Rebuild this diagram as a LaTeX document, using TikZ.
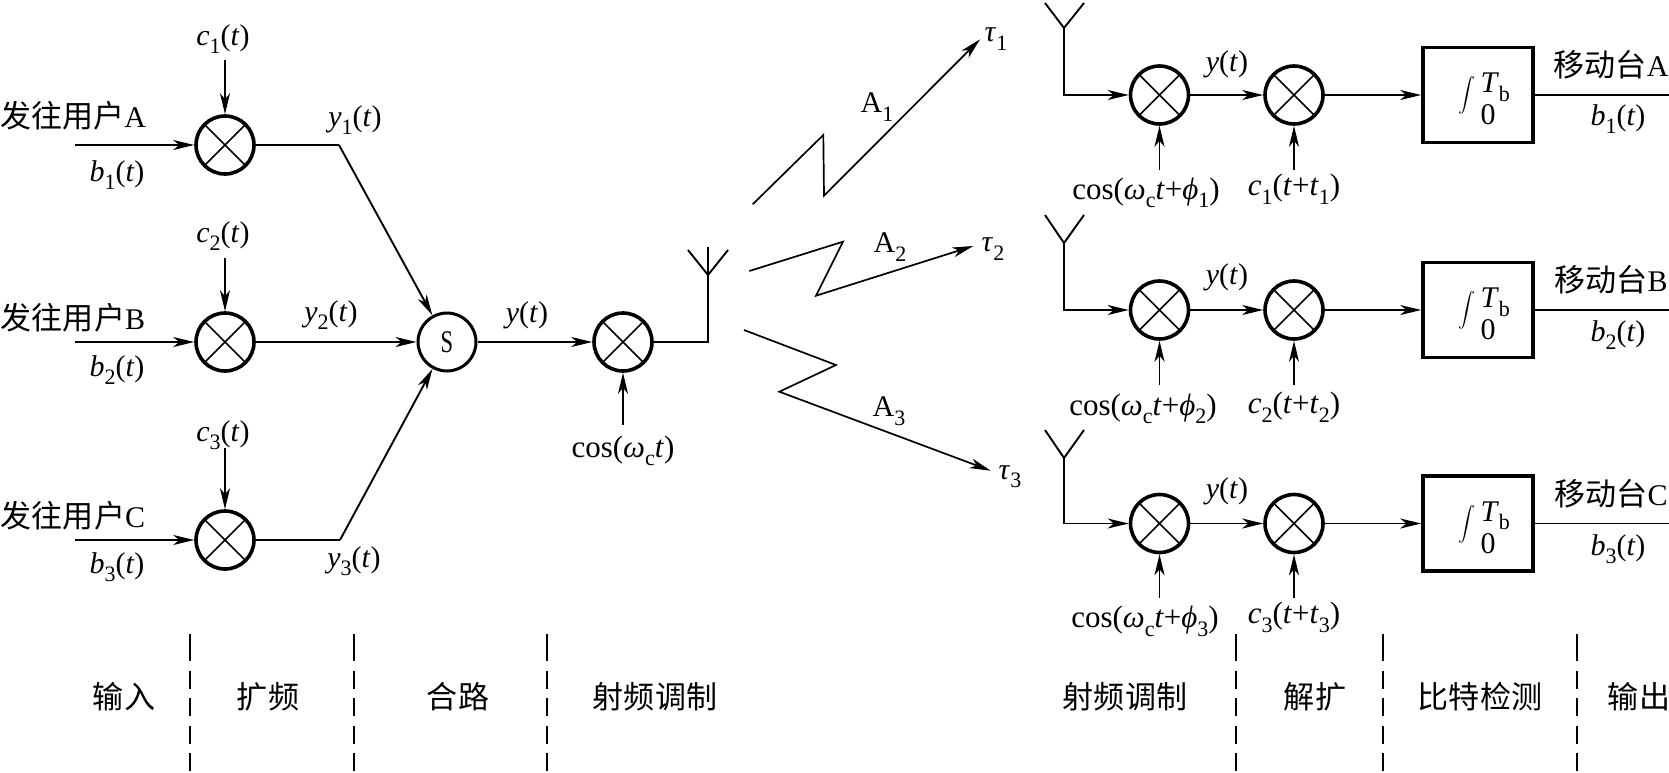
\documentclass[tikz,border=0pt]{standalone}
\usepackage{fontspec}
\setmainfont{Liberation Serif}
\newfontfamily\cjk[Scale=1.035]{Noto Sans CJK SC}
\usetikzlibrary{arrows.meta}
\newcommand{\sbx}[1]{\raisebox{-0.28em}{\fontsize{22}{22}\selectfont\upshape #1}}
\newcommand{\vi}[1]{\textit{#1}}
\newcommand{\ftt}{(\vi{t})}
\newcommand{\intT}{\mbox{\raisebox{5pt}{\scalebox{1.7}{\fontsize{10}{12}\selectfont$\displaystyle\int$}}\kern5pt\rlap{\raisebox{12pt}{\vi{T}\sbx{b}}}\raisebox{-20pt}{0}}}
\tikzset{
  every node/.style={inner sep=0pt,font=\fontsize{30}{36}\selectfont},
  wide/.style={font=\fontsize{31}{36}\selectfont},
  mixer/.style={circle,draw,line width=3.6pt,minimum size=58pt,
    path picture={\draw[line width=1.7pt] (path picture bounding box.north west)--(path picture bounding box.south east)
      (path picture bounding box.north east)--(path picture bounding box.south west);}},
  summer/.style={circle,draw,line width=3pt,minimum size=58pt},
  intbox/.style={draw,line width=3.6pt,minimum width=110pt,minimum height=95pt},
  wire/.style={line width=1.9pt},
  feed/.style={line width=1.9pt,-{Stealth[length=21pt,width=10pt,inset=6pt]}},
  radio/.style={line width=1.7pt,line join=miter},
  sep/.style={line width=1.9pt,dash pattern=on 27pt off 9.5pt on 18pt off 9.5pt on 18pt off 9.5pt on 18pt off 9.5pt on 18pt off 9.5pt on 18pt off 9.5pt},
  label/.style={anchor=center},
}
\begin{document}
\begin{tikzpicture}[x=1pt,y=-1pt]
\useasboundingbox (0,0) rectangle (1669,772);

% --- transmit side
\foreach \n/\y/\cy/\lby/\bby/\cly/\usr in {1/145/60/116/175/39/A,2/342/258/318/370/236/B,3/540/448/516/567/435/C}{
  \node[mixer] (m\n) at (225,\y) {};
  \coordinate (in\n) at (75,\y);
  \coordinate (ct\n) at (225,\cy);
  \draw[feed] (in\n) -- (m\n);
  \draw[feed] (ct\n) -- (m\n);
  \node[label] (user\n) at (73,\lby) {{\cjk 发往用户}\usr};
  \node[label] (b\n) at (117,\bby) {\vi{b}\sbx{\n}\ftt};
  \node[label] (c\n) at (223,\cly) {\vi{c}\sbx{\n}\ftt};
}
\node[summer] (sum) at (447,342) {\scalebox{.75}[1.05]{S}};
\coordinate (j1) at (339,145);
\coordinate (j3) at (340,540);
\draw[wire] (m1) -- (j1);
\draw[feed] (j1) -- (sum);
\draw[feed] (m2) -- (sum);
\draw[wire] (m3) -- (j3);
\draw[feed] (j3) -- (sum);
\node[label] (y1) at (355,120) {\vi{y}\sbx{1}\ftt};
\node[label] (y2) at (331,315) {\vi{y}\sbx{2}\ftt};
\node[label] (y3) at (354,561) {\vi{y}\sbx{3}\ftt};

\node[mixer] (mrf) at (623,342) {};
\draw[feed] (sum) -- (mrf);
\node[label] (yt) at (527,315) {\vi{y}\ftt};
\node[label,wide] (cosc) at (623,451) {cos(\vi{ω}\sbx{c}\vi{t})};
\coordinate (cosa) at (623,425);
\draw[feed] (cosa) -- (mrf);

% transmit antenna
\coordinate (txb) at (708,342);
\coordinate (txa) at (708,275);
\coordinate (txt) at (708,247);
\coordinate (txl) at (688,250);
\coordinate (txr) at (728,250);
\draw[wire] (mrf) -- (txb) -- (txt);
\draw[wire] (txl) -- (txa) -- (txr);

% --- radio paths
\coordinate (r1a) at (752.7,204.3);
\coordinate (r1b) at (823.3,135);
\coordinate (r1c) at (824,195.7);
\coordinate (r1d) at (980,39.3);
\coordinate (r2a) at (749.3,271);
\coordinate (r2b) at (843,241.7);
\coordinate (r2c) at (816,295.7);
\coordinate (r2d) at (973.3,246);
\coordinate (r3a) at (744,330);
\coordinate (r3b) at (836,365);
\coordinate (r3c) at (779.3,391.7);
\coordinate (r3d) at (990.7,470.7);
\draw[radio,-{Stealth[length=21pt,width=10pt,inset=6pt]}] (r1a) -- (r1b) -- (r1c) -- (r1d);
\draw[radio,-{Stealth[length=21pt,width=10pt,inset=6pt]}] (r2a) -- (r2b) -- (r2c) -- (r2d);
\draw[radio,-{Stealth[length=21pt,width=10pt,inset=6pt]}] (r3a) -- (r3b) -- (r3c) -- (r3d);
\node[label] (A1) at (877,107) {A\sbx{1}};
\node[label] (A2) at (890,247) {A\sbx{2}};
\node[label] (A3) at (889,411) {A\sbx{3}};
\node[label] (t1) at (996,39) {\vi{τ}\sbx{1}};
\node[label] (t2) at (993,249) {\vi{τ}\sbx{2}};
\node[label] (t3) at (1010,477) {\vi{τ}\sbx{3}};

% --- receive side
\foreach \n/\y/\apex/\armt/\ybot/\cosx/\cosy/\cly/\yly/\mly/\bly/\usr in {
  1/95/28/3/170/1146/193/189/64/65/119/A,
  2/310/243/215/385/1143/409/407/277/280/335/B,
  3/523.5/458/430/598/1145/621/617/491/494/549/C}{
  \node[mixer] (ra\n) at (1159.5,\y) {};
  \node[mixer] (rb\n) at (1294,\y) {};
  \node[intbox] (bx\n) at (1478,\y) {};
  \node[label] (int\n) at (1477,\y+4) {\intT};
  \coordinate (ant\n) at (1064,\apex);
  \coordinate (antl\n) at (1045,\armt);
  \coordinate (antr\n) at (1084,\armt);
  \coordinate (cor\n) at (1064,\y);
  \coordinate (up\n) at (1159.5,\ybot);
  \coordinate (uq\n) at (1294,\ybot);
  \coordinate (out\n) at (1669,\y);
  \draw[wire] (antl\n) -- (ant\n) -- (antr\n);
  \draw[feed] (ant\n) -- (cor\n) -- (ra\n);
  \draw[feed] (ra\n) -- (rb\n);
  \draw[feed] (rb\n) -- (bx\n);
  \draw[feed] (up\n) -- (ra\n);
  \draw[feed] (uq\n) -- (rb\n);
  \draw[wire] (bx\n) -- (out\n);
  \node[label] (ry\n) at (1227,\yly) {\vi{y}\ftt};
  \node[label] (mob\n) at (1611,\mly) {{\cjk 移动台}\usr};
  \node[label] (rbl\n) at (1618,\bly) {\vi{b}\sbx{\n}\ftt};
  \node[label,wide] (rcos\n) at (\cosx,\cosy) {cos(\vi{ω}\sbx{c}\vi{t}+\vi{ϕ}\sbx{\n})};
  \node[label,wide] (rc\n) at (1294,\cly) {\vi{c}\sbx{\n}(\vi{t}+\vi{t}\sbx{\n})};
}

% --- stage separators
\foreach \i/\x in {1/190,2/354,3/547,4/1236,5/1383,6/1577}{
  \coordinate (sa\i) at (\x,634);
  \coordinate (sb\i) at (\x,772);
  \draw[sep] (sa\i) -- (sb\i);
}
\node[label] (s1) at (124,697) {\cjk 输入};
\node[label] (s2) at (268,697) {\cjk 扩频};
\node[label] (s3) at (458,697) {\cjk 合路};
\node[label] (s4) at (655,697) {\cjk 射频调制};
\node[label] (s5) at (1125,697) {\cjk 射频调制};
\node[label] (s6) at (1315,697) {\cjk 解扩};
\node[label] (s7) at (1480,697) {\cjk 比特检测};
\node[label] (s8) at (1639,697) {\cjk 输出};
\end{tikzpicture}
\end{document}
